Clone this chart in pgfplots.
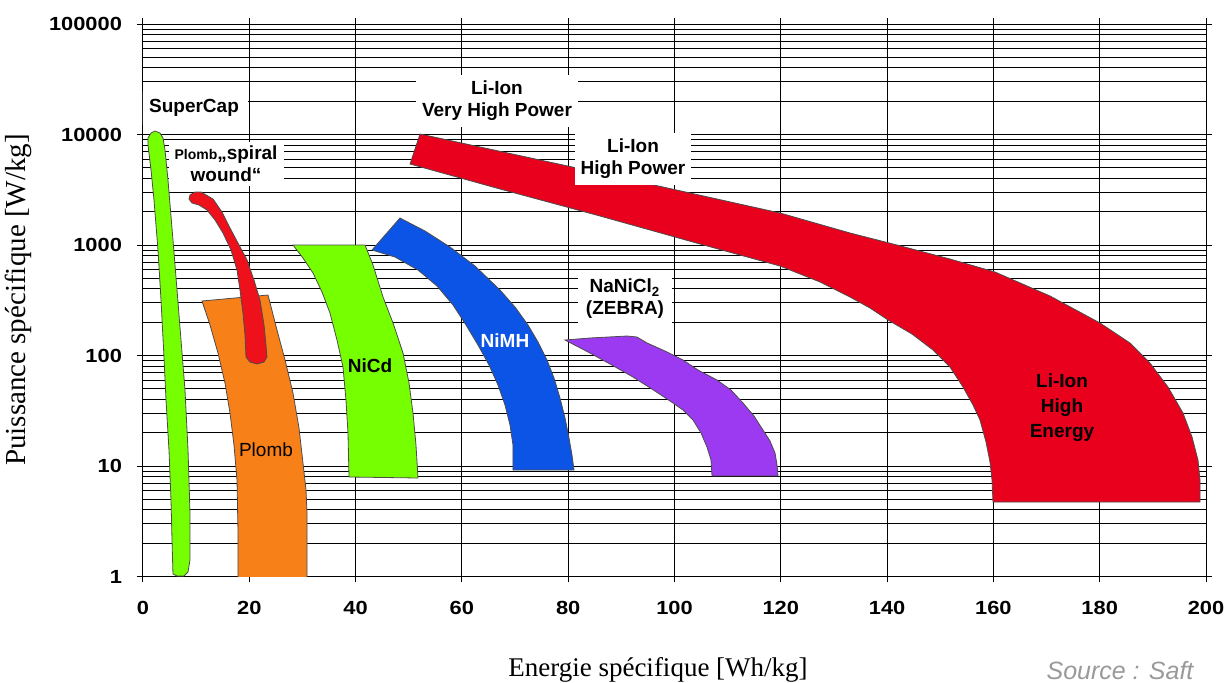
\documentclass[border=0pt]{standalone}
\usepackage{fontspec}
\setmainfont{Liberation Sans}
\newfontfamily\timesfont{Liberation Serif}
\newfontfamily\tickfont[FakeStretch=1.15]{Liberation Sans}
\usepackage{pgfplots}
\pgfplotsset{compat=1.18}

\definecolor{capgreen}{RGB}{118,255,0}
\definecolor{spiralred}{RGB}{238,16,26}
\definecolor{lired}{RGB}{232,0,28}
\definecolor{pborange}{RGB}{248,128,24}
\definecolor{nimhblue}{RGB}{12,84,230}
\definecolor{zebra}{RGB}{155,58,240}

\newcommand\lab{\bfseries\fontsize{9.5}{11}\selectfont}

\begin{document}
\begin{tikzpicture}
\begin{axis}[
    scale only axis,
    width=531.5pt, height=276.25pt,
    xmin=0, xmax=200,
    ymode=log, ymin=1, ymax=100000,
    xtick={0,20,40,60,80,100,120,140,160,180,200},
    xticklabels={0,20,40,60,80,100,120,140,160,180,200},
    ytick={1,10,100,1000,10000,100000},
    yticklabels={1,10,100,1000,10000,100000},
    grid=both,
    major grid style={black, line width=0.5pt},
    minor grid style={black, line width=0.5pt},
    axis line style={black, line width=0.5pt},
    tick style={black, line width=0.5pt},
    tick align=outside,
    major tick length=3pt,
    minor tick length=0pt,
    ticklabel style={font=\tickfont\bfseries\fontsize{9.5}{10}\selectfont},
    xticklabel style={yshift=-6pt},
    yticklabel style={xshift=-4pt},
  ]

  % SuperCap
  \addplot[fill=capgreen, draw=black!70, line width=0.4pt] coordinates {
    (5.64,1.053) (5.46,2.139) (5.27,4.924) (4.89,13.96) (4.33,39.56)
    (3.95,96.92) (3.39,317.8) (2.82,901.0) (2.07,2554) (1.51,4771)
    (0.94,8035) (0.94,9296) (1.51,10318) (2.26,10757) (3.20,10318)
    (3.76,9296) (4.14,7238) (4.70,3875) (5.64,1110) (6.40,391.5)
    (7.15,138.1) (7.90,48.73) (8.47,13.96) (8.84,3.755) (8.84,1.410)
    (8.47,1.098) (7.71,1.01) (6.40,1.01)
  } -- cycle;

  % Plomb
  \addplot[fill=pborange, draw=black!70, line width=0.4pt] coordinates {
    (17.87,0.95) (17.87,2.636) (17.69,7.470) (17.12,15.49) (16.37,30.17)
    (15.43,56.37) (14.11,105.3) (12.61,188.8) (11.10,311.4) (23.52,352.7)
    (25.21,170.1) (26.72,91.06) (28.22,45.78) (29.35,22.07) (30.10,10.65)
    (30.67,6.066) (30.86,3.755) (30.86,0.95)
  } -- cycle;

  % Plomb spiral wound
  \addplot[fill=spiralred, draw=black!70, line width=0.4pt] coordinates {
    (19.38,96.92) (19.19,153.3) (18.81,242.4) (18.25,391.5) (17.69,593.9)
    (16.56,901.0) (15.05,1284) (13.55,1684) (12.04,2074) (10.54,2301)
    (9.22,2399) (8.65,2608) (8.84,2835) (9.78,3017) (10.91,3017)
    (13.17,2608) (14.86,1989) (16.37,1425) (17.87,1042) (19.57,731.6)
    (20.88,482.4) (22.01,317.8) (22.77,188.8) (23.14,124.5) (23.33,96.92)
    (22.77,87.35) (21.45,83.78) (20.13,87.35)
  } -- cycle;

  % NiCd
  \addplot[fill=capgreen, draw=black!70, line width=0.4pt] coordinates {
    (38.76,7.955) (38.57,19.89) (38.19,39.56) (37.63,78.68) (36.50,138.1)
    (35.18,242.4) (33.68,375.5) (31.99,557.9) (30.10,762.7) (28.22,1000)
    (41.77,1000) (43.27,659.2) (45.16,338.3) (47.04,196.8) (48.92,105.3)
    (50.05,56.37) (50.80,30.17) (51.36,15.49) (51.74,7.789)
  } -- cycle;

  % NiMH
  \addplot[fill=nimhblue, draw=black!70, line width=0.4pt] coordinates {
    (69.61,9.202) (69.61,15.49) (69.05,23.50) (68.11,35.65) (66.79,54.08)
    (65.10,82.04) (63.03,124.5) (60.77,188.8) (58.33,286.4) (55.32,425.6)
    (51.74,593.9) (47.41,778.7) (43.09,901.0) (48.35,1755) (53.06,1338)
    (57.76,959.2) (62.46,645.7) (67.17,391.5) (69.99,274.8) (72.44,188.8)
    (74.32,132.5) (76.01,91.06) (77.33,62.57) (78.46,41.24) (79.40,27.19)
    (80.15,17.92) (80.71,12.58) (81.09,9.202)
  } -- cycle;

  % NaNiCl2 (ZEBRA)
  \addplot[fill=zebra, draw=black!70, line width=0.4pt] coordinates {
    (107.06,8.121) (106.87,11.33) (106.11,14.86) (104.99,19.89) (103.48,26.09)
    (101.60,32.12) (99.72,37.16) (96.33,47.71) (92.19,63.88) (87.87,83.78)
    (83.73,107.6) (79.40,138.1) (84.10,144.0) (91.06,150.1) (92.94,147.0)
    (94.83,129.8) (98.21,109.8) (101.60,91.06) (104.42,73.91) (108.00,60.01)
    (110.63,48.73) (112.89,37.16) (114.96,28.35) (116.65,21.17) (117.97,16.84)
    (118.91,13.11) (119.29,10.21) (119.47,8.121)
  } -- cycle;

  % Li-Ion
  \addplot[fill=lired, draw=black!70, line width=0.4pt] coordinates {
    (159.92,4.723) (159.74,7.470) (159.36,10.87) (158.61,16.49) (157.48,26.09)
    (156.16,35.65) (154.28,51.87) (151.83,78.68) (148.64,112.1) (144.68,156.5)
    (140.17,209.6) (136.78,269.1) (133.02,338.3) (127.38,462.7) (119.85,645.7)
    (104.80,1021) (85.98,1830) (67.17,3213) (50.24,5408) (52.12,10104)
    (85.98,4483) (119.85,1948) (133.02,1284) (141.86,1000) (151.83,746.9)
    (160.30,569.7) (170.65,345.5) (180.06,196.8) (185.70,129.8) (189.46,85.54)
    (192.85,51.87) (195.67,30.17) (197.37,18.30) (198.49,11.33) (198.87,7.470)
    (198.87,4.723)
  } -- cycle;

  % labels
  \node[fill=white, inner xsep=4.5pt, inner ysep=4pt, font=\lab] at (axis cs:9.60,17370) {SuperCap};
  \node[fill=white, inner xsep=3pt, inner ysep=2pt, align=center, font=\lab] at (axis cs:15.62,5408)
    {{\fontsize{7}{8}\selectfont Plomb}„spiral\\wound“};
  \node[fill=white, inner xsep=3pt, inner ysep=3pt, align=center, font=\lab] at (axis cs:66.60,20105)
    {Li-Ion\\Very High Power};
  \node[fill=white, inner xsep=3pt, inner ysep=3pt, align=center, font=\lab] at (axis cs:92.19,6001)
    {Li-Ion\\High Power};
  \node[fill=white, inner xsep=4pt, inner ysep=3pt, align=center, font=\lab] at (axis cs:90.69,324.6)
    {NaNiCl\textsubscript{2}\\(ZEBRA)};
  \node[font=\lab] at (axis cs:42.71,80.35) {NiCd};
  \node[font=\lab, text=white] at (axis cs:68.11,135.3) {NiMH};
  \node[font=\fontsize{9.5}{11}\selectfont] at (axis cs:23.14,13.96) {Plomb};
  \node[font=\bfseries\fontsize{9.5}{12.5}\selectfont, align=center] at (axis cs:172.91,33.49)
    {Li-Ion\\High\\Energy};
\end{axis}
\node[rotate=90, font=\timesfont\fontsize{14.5}{16}\selectfont]
  at ([xshift=-62.5pt, yshift=138.25pt]current axis.south west) {Puissance spécifique [W/kg]};
\node[anchor=base, font=\timesfont\fontsize{13.5}{15}\selectfont]
  at ([xshift=257.5pt, yshift=-49.75pt]current axis.south west) {Energie spécifique [Wh/kg]};
\node[anchor=base, text=black!40, font=\itshape\fontsize{12.5}{14}\selectfont]
  at ([xshift=488.5pt, yshift=-51.5pt]current axis.south west) {Source : Saft};
\pgfresetboundingbox
\path[use as bounding box] ([xshift=-71.5pt, yshift=-52.75pt]current axis.south west)
  rectangle ([xshift=12pt, yshift=12pt]current axis.north east);
\end{tikzpicture}
\end{document}
